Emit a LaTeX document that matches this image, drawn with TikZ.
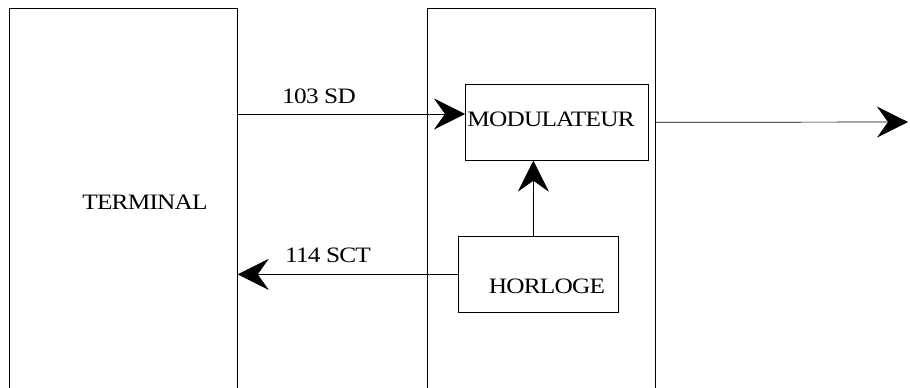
\documentclass[tikz,border=0pt]{standalone}
\usepackage{fontspec}
\setmainfont[FakeStretch=1.15, LetterSpace=-3.5]{Liberation Serif}
\usetikzlibrary{arrows.meta, calc, positioning}

\tikzset{
  boite/.style={draw=black, line width=0.7pt, inner sep=0pt},
  etiquette/.style={inner sep=0pt, font=\fontsize{22}{22}\selectfont},
  fleche/.style={line width=0.7pt, -{Stealth[length=31pt, width=31pt, inset=11pt]}}
}

\begin{document}
\begin{tikzpicture}[x=1pt, y=-1pt]
  % Cadre de la page
  \useasboundingbox (0,0) rectangle (910,388);

  % Blocs (ouverts vers le bas)
  \node[boite, minimum width=228pt, minimum height=392pt, anchor=north west] (terminal) at (9,8) {};
  \node[boite, minimum width=228pt, minimum height=392pt, anchor=north west] (modem) at (427,8) {};
  \node[boite, minimum width=183pt, minimum height=76pt, anchor=north west] (modulateur) at (465,84) {};
  \node[boite, minimum width=160pt, minimum height=76pt, anchor=north west] (horloge) at (458,236) {};

  % Textes
  \node[etiquette] (txtTerminal) at (145,202.5) {TERMINAL};
  \node[etiquette] (txtModulateur) at (551,119) {MODULATEUR};
  \node[etiquette] (txtHorloge) at (547,286.5) {HORLOGE};
  \node[etiquette] (txtSD) at (319,96.5) {103 SD};
  \node[etiquette] (txtSCT) at (328,255.5) {114 SCT};

  % Points auxiliaires
  \coordinate (niveauSD) at (0,114);
  \coordinate (horlogeHaut) at ([xshift=-5pt]horloge.north);
  \coordinate (sortie) at (908,122);

  % Liaisons
  \draw[fleche] (terminal.east |- niveauSD) -- (modulateur.west |- niveauSD);
  \draw[fleche] (horloge.west) -- (horloge.west -| terminal.east);
  \draw[fleche] (horlogeHaut) -- (horlogeHaut |- modulateur.south);
  \draw[fleche] (modem.east |- modulateur.east) -- (sortie);
\end{tikzpicture}
\end{document}
